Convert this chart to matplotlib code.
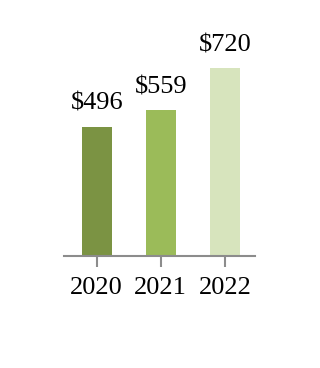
import matplotlib
matplotlib.use("Agg")
import matplotlib.pyplot as plt

years = ["2020", "2021", "2022"]
values = [496, 559, 720]
labels = ["$496", "$559", "$720"]
colors = ["#7B9343", "#9BBB59", "#D7E4BD"]

plt.rcParams['font.family'] = ['Liberation Serif', 'DejaVu Serif']

fig = plt.figure(figsize=(3.2, 3.68), dpi=100)
ax = fig.add_axes([64/320, 1-256/368, (255-64)/320, 236/368])
x = list(range(len(years)))
ax.bar(x, values, width=0.47, color=colors)
for xi, v, lab in zip(x, values, labels):
    ax.text(xi, v + 64, lab, ha="center", va="baseline", fontsize=19, color="black")
ax.set_xlim(-0.51, 2.47)
ax.set_ylim(0, 904)
ax.set_xticks(x)
ax.set_xticklabels(years, fontsize=19)
ax.set_yticks([])
for s in ["top", "right", "left"]:
    ax.spines[s].set_visible(False)
ax.spines["bottom"].set_color("#8C8C8C")
ax.spines["bottom"].set_linewidth(1.5)
ax.tick_params(axis="x", length=8, width=1.5, color="#8C8C8C", pad=7)
ax.patch.set_alpha(0)
fig.savefig("out.png", dpi=100)
